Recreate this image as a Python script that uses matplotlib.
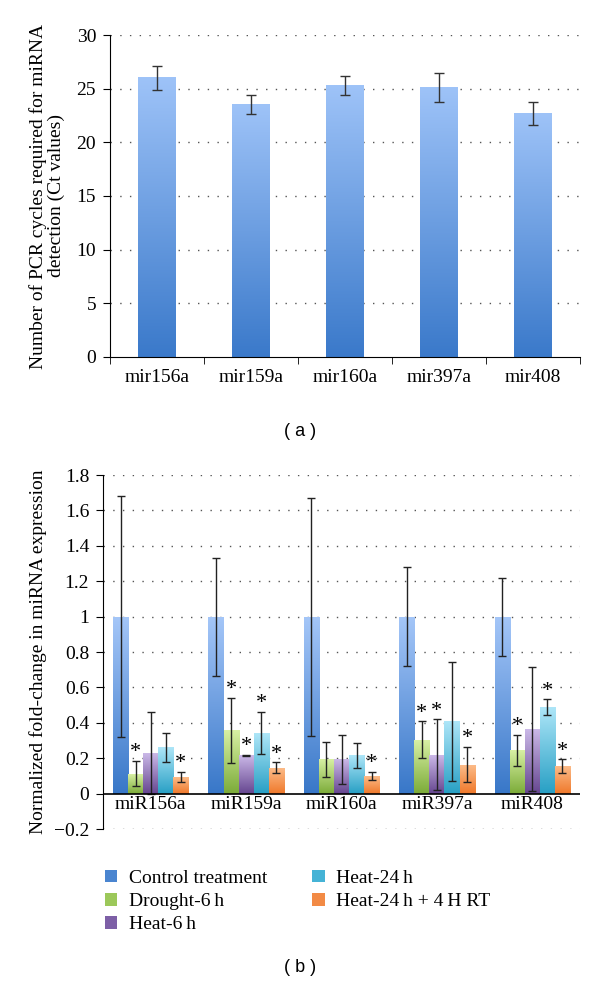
import numpy as np
import matplotlib
matplotlib.use('Agg')
import matplotlib.pyplot as plt
from matplotlib.colors import LinearSegmentedColormap
from matplotlib.patches import Patch

# panel (a): Ct values
top_labels = ['mir156a', 'mir159a', 'mir160a', 'mir397a', 'mir408']
top_ct = [26.0, 23.5, 25.3, 25.1, 22.7]
top_err = [1.15, 0.9, 0.85, 1.35, 1.05]

# panel (b): normalized fold change
bottom_labels = ['miR156a', 'miR159a', 'miR160a', 'miR397a', 'miR408']
series_names = ['Control treatment', 'Drought-6\u2009h', 'Heat-6\u2009h',
                'Heat-24\u2009h', 'Heat-24\u2009h + 4\u2009H RT']
control = [1.0, 1.0, 1.0, 1.0, 1.0]
control_err = [0.68, 0.333, 0.673, 0.28, 0.22]
drought = [0.113, 0.356, 0.193, 0.304, 0.244]
drought_err = [0.072, 0.185, 0.097, 0.105, 0.088]
heat6 = [0.229, 0.216, 0.193, 0.22, 0.366]
heat6_err = [0.23, 0.005, 0.14, 0.2, 0.35]
heat24 = [0.26, 0.343, 0.216, 0.407, 0.49]
heat24_err = [0.083, 0.12, 0.07, 0.335, 0.044]
heat24rt = [0.094, 0.146, 0.101, 0.163, 0.156]
heat24rt_err = [0.03, 0.03, 0.024, 0.1, 0.038]
# which bars carry a significance asterisk
control_sig = [0, 0, 0, 0, 0]
drought_sig = [1, 1, 0, 1, 1]
heat6_sig = [0, 1, 0, 1, 0]
heat24_sig = [0, 1, 0, 0, 1]
heat24rt_sig = [1, 1, 1, 1, 1]

# (top colour, bottom colour) for each series gradient
grad_colors = [('#a4c6f8', '#3877c8'),
               ('#d8f0a4', '#7bab38'),
               ('#cbb9e8', '#65458f'),
               ('#aee6f8', '#279fc4'),
               ('#fcbb88', '#ef782a')]
legend_colors = ['#4a85d0', '#9cc85a', '#7d5fa6', '#45b3d6', '#f28a45']

serif = ['Liberation Serif', 'DejaVu Serif']
plt.rcParams['font.family'] = serif
plt.rcParams['font.size'] = 14


def gradient_fill(ax, bars, top_c, bot_c):
    cmap = LinearSegmentedColormap.from_list('g', [bot_c, top_c])
    grad = np.linspace(0, 1, 256).reshape(-1, 1)
    for b in bars:
        x0, y0 = b.get_x(), b.get_y()
        w, h = b.get_width(), b.get_height()
        ax.imshow(grad, cmap=cmap, origin='lower', aspect='auto',
                  extent=[x0, x0 + w, y0, y0 + h], zorder=2,
                  interpolation='bilinear')
        b.set_facecolor('none')


def dotted_grid(ax, ticks):
    for t in ticks:
        ax.axhline(t, color='#555555', lw=1.0, ls=(0, (1, 6)), zorder=0)


fig = plt.figure(figsize=(6, 9.86), dpi=100)

# ---------- panel (a) ----------
ax1 = fig.add_axes([0.1833, 0.638, 0.7834, 0.3265])
x = np.arange(len(top_labels))
bars = ax1.bar(x, top_ct, width=0.4, zorder=2, edgecolor='none')
gradient_fill(ax1, bars, '#9ec3f8', '#3a79ca')
ax1.errorbar(x, top_ct, yerr=top_err, fmt='none', ecolor='#333333',
             elinewidth=1, capsize=3.5, capthick=1, zorder=3)
ax1.set_xlim(-0.5, len(top_labels) - 0.5)
ax1.set_ylim(0, 30)
yt = np.arange(0, 31, 5)
dotted_grid(ax1, yt[1:])
ax1.set_yticks(yt)
ax1.set_xticks(x)
ax1.set_xticklabels(top_labels)
ax1.set_xticks(np.arange(-0.5, len(top_labels)), minor=True)
ax1.tick_params(axis='x', which='major', length=0, pad=9)
ax1.tick_params(axis='x', which='minor', length=5, direction='out')
ax1.tick_params(axis='y', length=5, direction='out', pad=5)
for s in ['top', 'right']:
    ax1.spines[s].set_visible(False)
ax1.set_ylabel('Number of PCR cycles required for miRNA\ndetection (Ct values)',
               fontsize=14, linespacing=1.1, labelpad=8)

fig.text(0.5, 1 - 432 / 986, '( a )', ha='center', va='center',
         fontsize=13, family=['Liberation Sans', 'DejaVu Sans'])

# ---------- panel (b) ----------
ax2 = fig.add_axes([0.1717, 0.1592, 0.795, 0.359])
values = [control, drought, heat6, heat24, heat24rt]
errors = [control_err, drought_err, heat6_err, heat24_err, heat24rt_err]
sigs = [control_sig, drought_sig, heat6_sig, heat24_sig, heat24rt_sig]
n = len(values)
bw = 0.79 / n
xb = np.arange(len(bottom_labels))
for i in range(n):
    pos = xb - 0.395 + bw * (i + 0.5)
    b = ax2.bar(pos, values[i], width=bw, zorder=2, edgecolor='none')
    gradient_fill(ax2, b, *grad_colors[i])
    ax2.errorbar(pos, values[i], yerr=errors[i], fmt='none', ecolor='#222222',
                 elinewidth=1, capsize=3, capthick=1, zorder=3)
    for j in range(len(xb)):
        if sigs[i][j]:
            ax2.text(pos[j], values[i][j] + errors[i][j] - 0.008, '*',
                     ha='center', va='bottom', fontsize=16, zorder=4)

ax2.set_xlim(-0.5, len(bottom_labels) - 0.5)
ax2.set_ylim(-0.2, 1.8)
yt2 = np.round(np.arange(-0.2, 1.81, 0.2), 1)
dotted_grid(ax2, [t for t in yt2 if abs(t) > 1e-9])
ax2.axhline(0, color='black', lw=1.2, zorder=3)
ax2.set_yticks(yt2)
ax2.set_yticklabels(['\u22120.2' if t < 0 else ('%g' % t) for t in yt2])
ax2.set_xticks([])
ax2.tick_params(axis='y', length=5, direction='out', pad=5)
for s in ['top', 'right', 'bottom']:
    ax2.spines[s].set_visible(False)
for j, lab in enumerate(bottom_labels):
    ax2.text(j, -0.012, lab, ha='center', va='top', fontsize=14)
ax2.set_ylabel('Normalized fold-change in miRNA expression', fontsize=14,
               labelpad=5)

handles = [Patch(facecolor=c, edgecolor='none') for c in legend_colors]
fig.legend(handles, series_names, ncol=2, loc='upper left',
           bbox_to_anchor=(0.145, 1 - 852 / 986), frameon=False,
           handlelength=0.65, handleheight=0.65, handletextpad=0.6,
           columnspacing=2.3, labelspacing=0.3, fontsize=14)

fig.text(0.5, 1 - 968 / 986, '( b )', ha='center', va='center',
         fontsize=13, family=['Liberation Sans', 'DejaVu Sans'])

fig.savefig('out.png', dpi=100)
